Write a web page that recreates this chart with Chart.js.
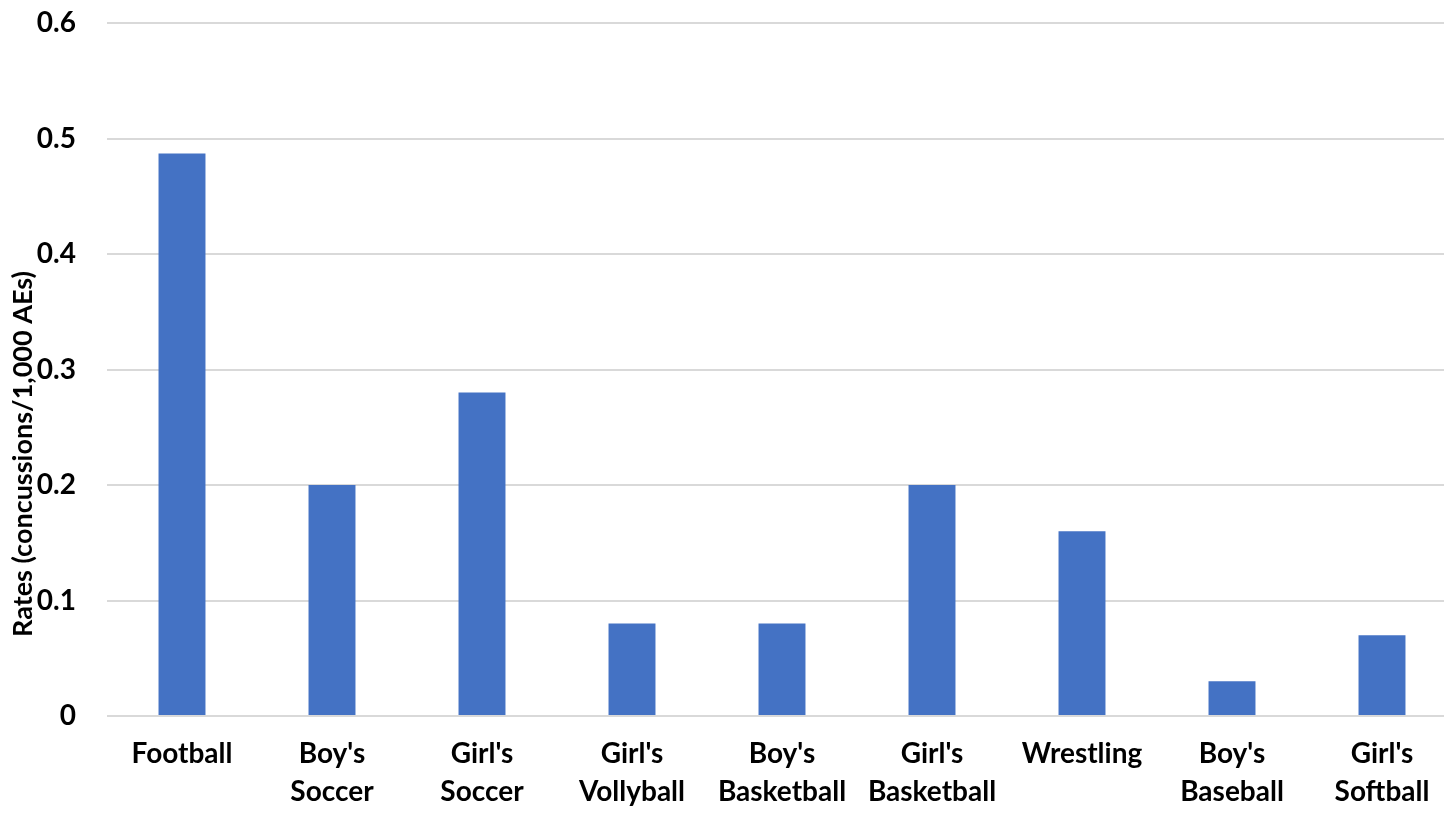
<!DOCTYPE html>
<html>
<head>
<meta charset="utf-8">
<script src="https://cdn.jsdelivr.net/npm/chart.js@4.4.0/dist/chart.umd.min.js"></script>
<style>
  html, body { margin: 0; padding: 0; background: #fff; overflow: hidden; }
  canvas { display: block; }
</style>
</head>
<body>
<canvas id="rateChart" width="1457" height="813"></canvas>
<script>
// Concussion rates per 1,000 athlete exposures, by sport
const sports = [
  'Football',
  ["Boy's", 'Soccer'],
  ["Girl's", 'Soccer'],
  ["Girl's", 'Vollyball'],
  ["Boy's", 'Basketball'],
  ["Girl's", 'Basketball'],
  'Wrestling',
  ["Boy's", 'Baseball'],
  ["Girl's", 'Softball']
];
const rates = [0.487, 0.2, 0.28, 0.08, 0.08, 0.2, 0.16, 0.03, 0.07];
const yTickLabels = ['0', '0.1', '0.2', '0.3', '0.4', '0.5', '0.6'];
const yAxisTitle = 'Rates (concussions/1,000 AEs)';

const FONT = 'Lato, "Open Sans", sans-serif';

// rotated y-axis title, drawn by hand so it can sit a bit low like the original
const axisTitlePlugin = {
  id: 'axisTitle',
  afterDraw(chart) {
    const ctx = chart.ctx;
    ctx.save();
    ctx.translate(32, 454);
    ctx.rotate(-Math.PI / 2);
    ctx.font = 'bold 27px ' + FONT;
    ctx.fillStyle = '#000';
    ctx.textAlign = 'center';
    ctx.textBaseline = 'alphabetic';
    ctx.fillText(yAxisTitle, 0, 0);
    ctx.restore();
  }
};

const ctx = document.getElementById('rateChart').getContext('2d');
new Chart(ctx, {
  type: 'bar',
  data: {
    labels: sports,
    datasets: [{
      data: rates,
      backgroundColor: '#4472C4',
      borderWidth: 0,
      barPercentage: 0.313,
      categoryPercentage: 1
    }]
  },
  options: {
    responsive: false,
    animation: false,
    layout: { padding: { top: 23, right: 0, bottom: 0, left: 0 } },
    plugins: {
      legend: { display: false },
      tooltip: { enabled: false }
    },
    scales: {
      x: {
        grid: { display: false, drawTicks: false },
        border: { display: false },
        ticks: {
          color: '#000',
          padding: 19,
          maxRotation: 0,
          autoSkip: false,
          font: { family: FONT, size: 28, weight: 'bold', lineHeight: 1.36 }
        },
        afterFit(scale) { scale.height = 97; }
      },
      y: {
        min: 0,
        max: 0.6,
        grid: { color: '#d9d9d9', lineWidth: 2, drawTicks: false },
        border: { display: false },
        ticks: {
          stepSize: 0.1,
          color: '#000',
          padding: 31,
          font: { family: FONT, size: 28, weight: 'bold' },
          callback: (v, i) => yTickLabels[i]
        },
        afterFit(scale) {
          scale.width = 107;
          // tick padding would otherwise also push the plot top down
          scale.paddingTop = 0;
          scale.paddingBottom = 0;
        }
      }
    }
  },
  plugins: [axisTitlePlugin]
});
</script>
</body>
</html>
